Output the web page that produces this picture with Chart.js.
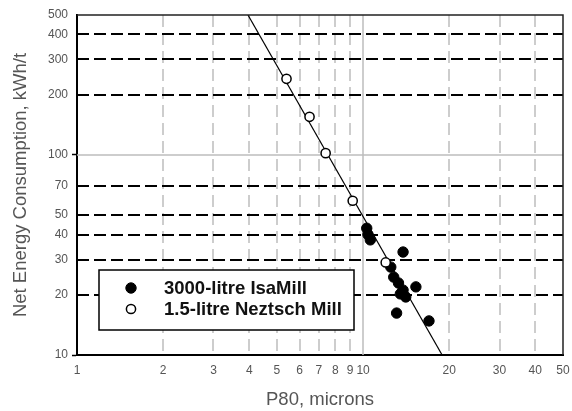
<!DOCTYPE html>
<html><head><meta charset="utf-8">
<script src="https://cdn.jsdelivr.net/npm/chart.js@4"></script>
<style>html,body{margin:0;padding:0;background:#fff}</style>
</head><body>
<canvas id="c" width="572" height="411" style="display:block;width:572px;height:411px"></canvas>
<script>
// ---- data ----
const isaX = [10.3, 10.4, 10.6, 13.8, 12.5, 12.8, 13.3, 13.8, 14.1, 15.3, 13.1, 17.0, 13.5];
const isaY = [43, 40, 37.6, 32.7, 27.5, 24.5, 22.9, 21.1, 19.5, 21.9, 16.2, 14.8, 20.2];
const netX = [5.4, 6.5, 7.4, 9.2, 12.0];
const netY = [240, 155, 102, 59, 29];
const fitX = [3.96, 18.9];
const fitY = [500, 10];
const xTicks = [1, 2, 3, 4, 5, 6, 7, 8, 9, 10, 20, 30, 40, 50];
const yTicks = [10, 20, 30, 40, 50, 70, 100, 200, 300, 400, 500];
const xGridDashed = [2, 3, 4, 5, 6, 7, 8, 9, 20, 30, 40];
const xGridSolid = [10];
const yGridDashed = [20, 30, 40, 50, 70, 200, 300, 400];
const yGridSolid = [100];
const yTickMarks = [10, 100];
const seriesNames = ['3000-litre IsaMill', '1.5-litre Neztsch Mill'];
const xTitle = 'P80, microns';
const yTitle = 'Net Energy Consumption, kWh/t';

const FONT = "'Liberation Sans', Arial, Helvetica, sans-serif";
const toPts = (xs, ys) => xs.map((x, i) => ({x, y: ys[i]}));

const gridPlugin = {
  id: 'customGrid',
  beforeDatasetsDraw(chart) {
    const {ctx, chartArea: a, scales: {x, y}} = chart;
    ctx.save();
    ctx.beginPath(); ctx.rect(a.left, a.top, a.right - a.left, a.bottom - a.top); ctx.clip();
    ctx.strokeStyle = '#bdbdbd'; ctx.lineWidth = 1.5;
    ctx.setLineDash([12, 6]);
    xGridDashed.forEach(v => { const px = Math.round(x.getPixelForValue(v)); ctx.beginPath(); ctx.moveTo(px, a.top); ctx.lineTo(px, a.bottom); ctx.stroke(); });
    ctx.setLineDash([]);
    xGridSolid.forEach(v => { const px = Math.round(x.getPixelForValue(v)); ctx.beginPath(); ctx.moveTo(px, a.top); ctx.lineTo(px, a.bottom); ctx.stroke(); });
    yGridSolid.forEach(v => { const py = Math.round(y.getPixelForValue(v)); ctx.beginPath(); ctx.moveTo(a.left, py); ctx.lineTo(a.right, py); ctx.stroke(); });
    ctx.strokeStyle = '#000'; ctx.lineWidth = 2;
    ctx.setLineDash([12, 5]);
    yGridDashed.forEach(v => { const py = Math.round(y.getPixelForValue(v)); ctx.beginPath(); ctx.moveTo(a.left, py); ctx.lineTo(a.right, py); ctx.stroke(); });
    ctx.restore();
  },
  afterDraw(chart) {
    const {ctx, chartArea: a} = chart;
    ctx.save();
    ctx.strokeStyle = '#222'; ctx.lineWidth = 1.5;
    ctx.beginPath(); ctx.moveTo(a.left, a.top); ctx.lineTo(a.right, a.top); ctx.lineTo(a.right, a.bottom); ctx.stroke();
    const bx = 99, by = 270, bw = 255, bh = 60;
    ctx.fillStyle = '#fff'; ctx.fillRect(bx, by, bw, bh);
    ctx.strokeStyle = '#000'; ctx.lineWidth = 1.5; ctx.strokeRect(bx, by, bw, bh);
    const ds = chart.data.datasets;
    [1, 2].forEach((di, i) => {
      const d = ds[di];
      const cy = by + 18 + i * 21;
      ctx.beginPath(); ctx.arc(bx + 32, cy, d.pointRadius, 0, Math.PI * 2);
      ctx.fillStyle = d.pointBackgroundColor; ctx.fill();
      ctx.lineWidth = d.pointBorderWidth; ctx.strokeStyle = d.pointBorderColor; ctx.stroke();
      ctx.fillStyle = '#111'; ctx.font = 'bold 18.5px ' + FONT; ctx.textBaseline = 'middle'; ctx.textAlign = 'left';
      ctx.fillText(d.label, bx + 65, cy + 1);
    });
    ctx.restore();
  }
};

new Chart(document.getElementById('c'), {
  type: 'scatter',
  data: {
    datasets: [
      {label: 'fit', type: 'line', data: toPts(fitX, fitY), borderColor: '#000', borderWidth: 1.2, pointRadius: 0, fill: false, order: 3},
      {label: seriesNames[0], data: toPts(isaX, isaY), pointRadius: 5.2, pointBackgroundColor: '#000', pointBorderColor: '#000', pointBorderWidth: 1, backgroundColor: '#000', borderColor: '#000', order: 2},
      {label: seriesNames[1], data: toPts(netX, netY), pointRadius: 4.6, pointBackgroundColor: '#fff', pointBorderColor: '#000', pointBorderWidth: 1.5, backgroundColor: '#fff', borderColor: '#000', order: 1}
    ]
  },
  options: {
    responsive: false, animation: false, devicePixelRatio: 1,
    layout: {padding: {left: 0, top: 15, right: 9, bottom: 0}},
    plugins: {legend: {display: false}, tooltip: {enabled: false}},
    scales: {
      x: {
        type: 'logarithmic', position: 'bottom', min: 1, max: 50,
        afterBuildTicks: s => { s.ticks = xTicks.map(v => ({value: v})); },
        afterFit: s => { s.height = 56; s.paddingLeft = 0; s.paddingRight = 0; },
        ticks: {autoSkip: false, maxRotation: 0, minRotation: 0, padding: 8, color: '#555', font: {family: FONT, size: 12}, callback: v => String(v)},
        grid: {drawOnChartArea: false, drawTicks: false},
        border: {display: true, color: '#000', width: 2},
        title: {display: true, text: xTitle, color: '#555', font: {family: FONT, size: 18.5}, padding: {top: 0, bottom: 0}}
      },
      y: {
        type: 'logarithmic', position: 'left', min: 10, max: 500,
        afterBuildTicks: s => { s.ticks = yTicks.map(v => ({value: v})); },
        afterFit: s => { s.width = 77; s.paddingTop = 0; s.paddingBottom = 0; },
        ticks: {autoSkip: false, padding: 4, color: '#555', font: {family: FONT, size: 12}, callback: v => String(v)},
        grid: {drawOnChartArea: false, drawTicks: true, tickLength: 5, tickWidth: 1.5,
          tickColor: c => (c.tick && yTickMarks.includes(c.tick.value)) ? '#000' : 'rgba(0,0,0,0)'},
        border: {display: true, color: '#000', width: 2},
        title: {display: true, text: yTitle, color: '#555', font: {family: FONT, size: 18.5}, padding: {top: 10, bottom: 0}}
      }
    }
  },
  plugins: [gridPlugin]
});
</script>
</body></html>
